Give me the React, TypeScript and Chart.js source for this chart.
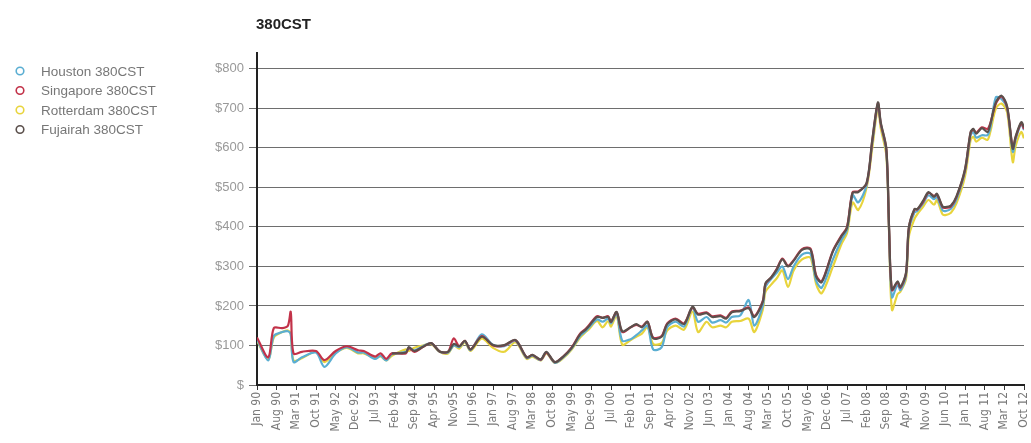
import React, { useEffect, useRef } from "react";
import { Chart, registerables } from "chart.js";

Chart.register(...registerables);

const TITLE = "380CST";

// x tick labels, one every 7 months starting Jan 1990 (month index 0)
const tickLabels = [
  "Jan 90", "Aug 90", "Mar 91", "Oct 91", "May 92", "Dec 92", "Jul 93", "Feb 94", "Sep 94", "Apr 95",
  "Nov95", "Jun 96", "Jan 97", "Aug 97", "Mar 98", "Oct 98", "May 99", "Dec 99", "Jul 00", "Feb 01",
  "Sep 01", "Apr 02", "Nov 02", "Jun 03", "Jan 04", "Aug 04", "Mar 05", "Oct 05", "May 06", "Dec 06",
  "Jul 07", "Feb 08", "Sep 08", "Apr 09", "Nov 09", "Jun 10", "Jan 11", "Aug 11", "Mar 12", "Oct 12",
];

// months since Jan 1990 for each sample
const months = [
  0, 4, 6, 9, 11, 12, 13, 16, 21, 24,
  28, 32, 36, 38, 42, 44, 46, 48, 53, 54,
  56, 59, 62, 65, 68, 70, 72, 74, 76, 80,
  84, 88, 92, 96, 98, 101, 103, 106, 109, 112,
  115, 117, 118, 121, 123, 125, 126, 128, 130, 133,
  135, 137, 139, 141, 144, 146, 149, 152, 155, 157,
  160, 162, 165, 167, 169, 172, 175, 177, 180, 181,
  183, 185, 187, 189, 191, 194, 197, 199, 201, 205,
  208, 210, 212, 214, 217, 219, 221, 222, 224, 225,
  226, 228, 229, 231, 232, 234, 235, 237, 239, 241,
  242, 244, 245, 247, 249, 252, 254, 255, 256, 258,
  260, 261, 263, 265, 267, 269, 270, 272, 273,
];

const houston = [
  116, 62, 124, 134, 136, 128, 58, 70, 82, 46,
  80, 96, 82, 82, 66, 74, 62, 78, 84, 92,
  88, 98, 106, 84, 82, 100, 96, 110, 88, 128,
  102, 98, 112, 68, 74, 63, 82, 56, 70, 92,
  124, 136, 144, 166, 160, 168, 156, 180, 112, 116,
  126, 138, 150, 90, 95, 146, 160, 148, 196, 160,
  172, 158, 164, 158, 172, 176, 215, 150, 200, 248,
  268, 284, 300, 268, 300, 330, 332, 264, 246, 318,
  366, 392, 480, 462, 506, 612, 708, 660, 590, 386,
  222, 254, 240, 276, 390, 436, 440, 458, 480, 470,
  476, 442, 440, 446, 470, 540, 632, 640, 626, 632,
  632, 650, 728, 724, 700, 590, 620, 660, 645,
];

const singapore = [
  120, 70, 144, 144, 150, 185, 80, 84, 86, 63,
  86, 98, 88, 86, 72, 80, 66, 80, 80, 94,
  84, 96, 106, 85, 84, 118, 98, 112, 90, 124,
  100, 100, 113, 70, 76, 64, 82, 58, 72, 95,
  130, 142, 150, 174, 170, 174, 160, 184, 134, 146,
  152, 148, 160, 120, 124, 156, 168, 156, 196, 180,
  184, 174, 176, 170, 186, 188, 196, 174, 212, 256,
  272, 294, 320, 302, 316, 344, 345, 278, 262, 340,
  378, 400, 488, 490, 510, 618, 712, 662, 596, 390,
  240, 260, 246, 282, 396, 444, 444, 462, 486, 478,
  482, 450, 448, 452, 476, 544, 638, 646, 638, 652,
  648, 662, 712, 730, 702, 600, 626, 662, 648,
];

const rotterdam = [
  112, 64, 120, 134, 138, 130, 62, 68, 84, 58,
  82, 94, 80, 80, 68, 72, 62, 74, 90, 86,
  94, 100, 104, 84, 80, 100, 92, 108, 86, 118,
  94, 84, 108, 66, 72, 62, 80, 56, 68, 90,
  120, 134, 140, 162, 146, 162, 148, 176, 102, 114,
  122, 130, 146, 104, 106, 138, 150, 140, 186, 134,
  160, 146, 150, 146, 160, 162, 168, 134, 190, 236,
  254, 270, 290, 248, 290, 318, 322, 256, 232, 300,
  356, 384, 462, 443, 500, 600, 700, 650, 580, 380,
  190, 230, 236, 268, 375, 420, 432, 450, 468, 456,
  468, 432, 430, 436, 460, 528, 620, 628, 616, 626,
  620, 640, 700, 712, 690, 564, 604, 640, 624,
];

const fujairah = [
  null, null, null, null, null, null, null, null, null, null,
  null, null, null, null, null, null, null, 80, 82, 96,
  86, 96, 106, 85, 84, 104, 98, 112, 90, 122,
  101, 101, 114, 70, 76, 65, 84, 58, 72, 94,
  128, 140, 148, 172, 170, 172, 160, 185, 136, 146,
  154, 146, 160, 118, 122, 154, 166, 154, 198, 178,
  182, 172, 174, 168, 184, 187, 194, 172, 210, 258,
  272, 292, 318, 300, 314, 342, 343, 275, 260, 338,
  376, 398, 486, 488, 512, 620, 715, 665, 598, 392,
  242, 262, 248, 284, 398, 445, 445, 465, 488, 476,
  484, 452, 450, 454, 478, 546, 640, 648, 636, 650,
  640, 660, 715, 732, 705, 598, 628, 665, 652,
];

const seriesNames = ["Houston 380CST", "Singapore 380CST", "Rotterdam 380CST", "Fujairah 380CST"];
const seriesColors = ["#5aaed2", "#c23249", "#e8d43c", "#5b504c"];
const seriesValues = [houston, singapore, rotterdam, fujairah];
const drawOrder = [3, 2, 4, 1];

const NARROW = '"Liberation Sans Narrow", "DejaVu Sans Condensed", "Liberation Sans", sans-serif';
const SANS = '"Liberation Sans", Arial, sans-serif';

const overlayPlugin = {
  id: "overlay",
  afterDraw(chart: any) {
    const ctx = chart.ctx;
    ctx.save();
    // title
    ctx.fillStyle = "#222";
    ctx.font = `bold 15px ${SANS}`;
    ctx.textBaseline = "middle";
    ctx.textAlign = "left";
    ctx.fillText(TITLE, chart.chartArea.left - 1, 25);
    // legend
    ctx.font = `13.5px ${SANS}`;
    chart.data.datasets.forEach((ds: any, i: number) => {
      const y = 71 + i * 19.5;
      ctx.beginPath();
      ctx.arc(20, y, 3.8, 0, Math.PI * 2);
      ctx.strokeStyle = ds.borderColor;
      ctx.lineWidth = 1.6;
      ctx.stroke();
      ctx.fillStyle = "#777";
      ctx.fillText(ds.label, 41, y + 1);
    });
    ctx.restore();
  },
};

export default function App() {
  const ref = useRef<HTMLCanvasElement>(null);

  useEffect(() => {
    const canvas = ref.current;
    if (!canvas) return;
    const datasets = seriesValues.map((vals, s) => ({
      label: seriesNames[s],
      data: months.map((m, i) => ({ x: m, y: vals[i] })),
      borderColor: seriesColors[s],
      backgroundColor: seriesColors[s],
      borderWidth: 2.2,
      pointRadius: 0,
      tension: 0.3,
      spanGaps: false,
      order: drawOrder[s],
      fill: false,
    }));
    const chart = new Chart(canvas, {
      type: "line",
      data: { datasets },
      plugins: [overlayPlugin],
      options: {
        animation: false,
        responsive: false,
        maintainAspectRatio: false,
        layout: { padding: { left: 207, top: 53, right: 7, bottom: 0 } },
        plugins: {
          legend: { display: false },
          tooltip: { enabled: false },
          title: { display: false },
        },
        scales: {
          x: {
            type: "linear",
            min: 0,
            max: 273,
            afterFit(scale: any) {
              scale.height = 58;
              scale.paddingLeft = 0;
              scale.paddingRight = 0;
            },
            ticks: {
              stepSize: 7,
              autoSkip: false,
              maxRotation: 90,
              minRotation: 90,
              padding: 2,
              color: "#7a7a7a",
              font: { family: NARROW, size: 12 },
              callback: (v: any) => {
                const idx = Math.round(Number(v) / 7);
                return tickLabels[idx] ?? "";
              },
            },
            grid: {
              drawOnChartArea: false,
              drawTicks: true,
              tickLength: 5,
              color: "#333",
            },
            border: { display: true, color: "#222", width: 2 },
          },
          y: {
            type: "linear",
            min: 0,
            max: 840,
            afterFit(scale: any) {
              scale.width = 50;
            },
            afterBuildTicks(scale: any) {
              scale.ticks = scale.ticks.filter((t: any) => t.value % 100 === 0);
            },
            ticks: {
              stepSize: 100,
              padding: 5,
              color: "#999",
              font: { family: SANS, size: 13 },
              callback: (v: any) => (Number(v) === 0 ? "$" : "$" + v),
            },
            grid: {
              color: "#6e6e6e",
              lineWidth: 1,
              tickLength: 8,
            },
            border: { display: true, color: "#222", width: 2 },
          },
        },
      },
    });
    return () => chart.destroy();
  }, []);

  return (
    <div style={{ position: "fixed", left: 0, top: 0, width: 1031, height: 443, background: "#fff" }}>
      <canvas ref={ref} width={1031} height={443} style={{ width: 1031, height: 443, display: "block" }} />
    </div>
  );
}
